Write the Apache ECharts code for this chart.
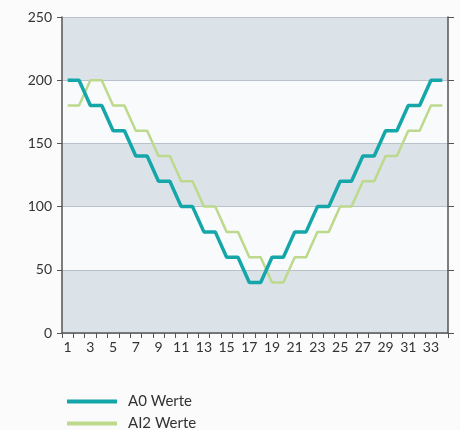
<!DOCTYPE html>
<html><head><meta charset="utf-8">
<script src="https://cdn.jsdelivr.net/npm/echarts@6/dist/echarts.min.js"></script>
<style>html,body{margin:0;padding:0;background:#fbfbfb}#c{width:460px;height:430px}</style>
</head><body><div id="c"></div>
<script>
const categories = [];
for (let i = 1; i <= 34; i++) categories.push(String(i));
const seriesNames = ['A0 Werte', 'AI2 Werte'];
const a0Values = [200,200,180,180,160,160,140,140,120,120,100,100,80,80,60,60,40,40,60,60,80,80,100,100,120,120,140,140,160,160,180,180,200,200];
const ai2Values = [180,180,200,200,180,180,160,160,140,140,120,120,100,100,80,80,60,60,40,40,60,60,80,80,100,100,120,120,140,140,160,160,180,180];
const yTicks = [0, 50, 100, 150, 200, 250];

const chart = echarts.init(document.getElementById('c'));
const font = 'Lato, "Open Sans", sans-serif';
const legendBase = {
  left: 62, itemWidth: 50, itemHeight: 4, icon: 'rect',
  textStyle: { fontFamily: font, fontSize: 15, color: '#333', padding: [0, 0, 0, 6] }
};
chart.setOption({
  backgroundColor: '#fbfbfb',
  animation: false,
  grid: { left: 62, right: 12, top: 17, bottom: 97 },
  legend: [
    Object.assign({ top: 389, data: [seriesNames[0]] }, legendBase),
    Object.assign({ top: 411, data: [seriesNames[1]] }, legendBase)
  ],
  xAxis: {
    type: 'category', data: categories, boundaryGap: true,
    axisLine: { lineStyle: { color: '#555', width: 1.5 } },
    axisTick: { show: true, length: 5, interval: 0, lineStyle: { color: '#555' } },
    axisLabel: { interval: 1, color: '#333', fontFamily: font, fontSize: 14, margin: 7 }
  },
  yAxis: [{
    type: 'value', min: yTicks[0], max: yTicks[yTicks.length-1], interval: 50,
    axisLine: { show: true, lineStyle: { color: '#555', width: 1.5 } },
    axisTick: { show: true, length: 5, lineStyle: { color: '#555' } },
    axisLabel: { color: '#333', fontFamily: font, fontSize: 14, margin: 10 },
    splitLine: { show: true, lineStyle: { color: '#b9c2ca', width: 1 } },
    splitArea: { show: true, areaStyle: { color: ['#dbe2e8', '#f9fafb'] } }
  }, {
    type: 'value', position: 'right', min: yTicks[0], max: yTicks[yTicks.length-1], interval: 50,
    axisLine: { show: true, lineStyle: { color: '#555', width: 1.5 } },
    axisTick: { show: true, length: 6, lineStyle: { color: '#555' } },
    axisLabel: { show: false },
    splitLine: { show: false }
  }],
  series: [{
    name: seriesNames[0], type: 'line', data: a0Values, symbol: 'none',
    color: '#14a6a9', lineStyle: { width: 3.5, color: '#14a6a9' }, z: 3
  }, {
    name: seriesNames[1], type: 'line', data: ai2Values, symbol: 'none',
    color: '#bcd98c', lineStyle: { width: 2.5, color: '#bcd98c' }, z: 2
  }]
});
</script></body></html>
